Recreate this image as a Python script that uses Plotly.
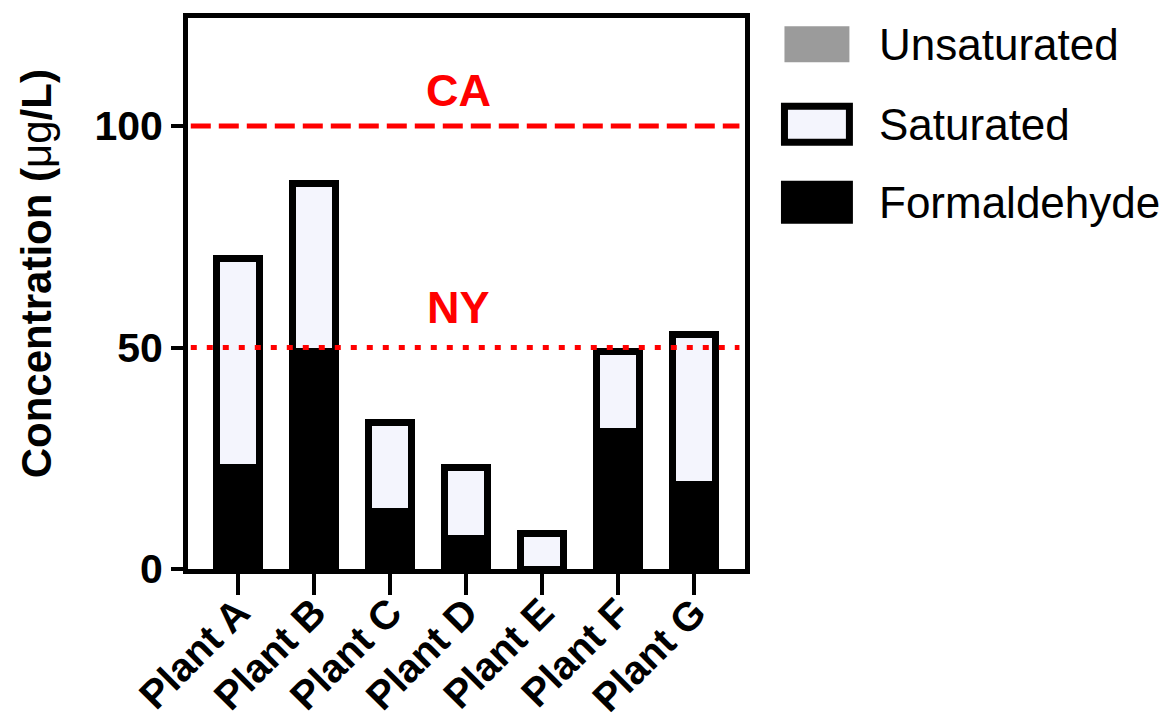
import plotly.graph_objects as go

plants = ["Plant A", "Plant B", "Plant C", "Plant D", "Plant E", "Plant F", "Plant G"]
formaldehyde = [23, 49, 13, 7, 0, 31, 19]
saturated = [47, 38, 20, 16, 8, 18, 34]
unsaturated = [0, 0, 0, 0, 0, 0, 0]
limit_values = [100, 50]
limit_labels = ["CA", "NY"]
y_ticks = [0, 50, 100]
legend_names = ["Unsaturated", "Saturated", "Formaldehyde"]

FONT = "Liberation Sans, Arial, sans-serif"
BLACK = "#000000"
RED = "#FF0000"
SAT_FILL = "#F4F5FD"
UNSAT_FILL = "#9B9B9B"

L, R, T, B = 188, 745.5, 17.7, 569
PW, PH = R - L, B - T

def px(x):
    return (x - L) / PW

def py(y):
    return (B - y) / PH

fig = go.Figure()
fig.add_trace(go.Bar(x=plants, y=formaldehyde, name="Formaldehyde", width=0.56,
                     marker=dict(color=BLACK, line=dict(color=BLACK, width=7))))
fig.add_trace(go.Bar(x=plants, y=saturated, name="Saturated", width=0.56,
                     marker=dict(color=SAT_FILL, line=dict(color=BLACK, width=7))))
fig.add_trace(go.Bar(x=plants, y=unsaturated, name="Unsaturated", width=0.56,
                     marker=dict(color=UNSAT_FILL, line=dict(color=UNSAT_FILL, width=0))))

# reference lines
dash_styles = ["20px,8px", "6px,10px"]
shifts = [8, 13]
for val, lab, dsh, sh in zip(limit_values, limit_labels, dash_styles, shifts):
    fig.add_shape(type="line", xref="paper", yref="y", x0=0.005, x1=0.99, y0=val, y1=val,
                  line=dict(color=RED, width=5, dash=dsh), layer="above")
    fig.add_annotation(x=px(459), xref="paper", y=val, yref="y", text="<b>%s</b>" % lab,
                       showarrow=False, yanchor="bottom", yshift=sh,
                       font=dict(family=FONT, size=45, color=RED))

# custom legend
leg_fill = [UNSAT_FILL, SAT_FILL, BLACK]
leg_line = [UNSAT_FILL, BLACK, BLACK]
leg_lw = [0, 7, 7]
leg_y = [44, 124, 202]  # pixel centers from top
for name, fc, lc, lw, yc in zip(legend_names, leg_fill, leg_line, leg_lw, leg_y):
    fig.add_shape(type="rect", xref="paper", yref="paper",
                  x0=px(785), x1=px(850), y0=py(yc + 18), y1=py(yc - 18),
                  fillcolor=fc, line=dict(color=lc, width=lw))
    fig.add_annotation(xref="paper", yref="paper", x=px(878), y=py(yc), text=name,
                       showarrow=False, xanchor="left", yanchor="middle",
                       font=dict(family=FONT, size=44, color=BLACK))

# y axis title
fig.add_annotation(xref="paper", yref="paper", x=px(36), y=py(274),
                   text="<b>Concentration (</b>μg<b>/L)</b>", textangle=-90, showarrow=False,
                   xanchor="center", yanchor="middle",
                   font=dict(family=FONT, size=42, color=BLACK))

fig.update_layout(
    barmode="stack",
    width=1171, height=723,
    margin=dict(l=L, r=1171 - R, t=T, b=723 - B),
    paper_bgcolor="white", plot_bgcolor="white",
    showlegend=False,
    font=dict(family=FONT, color=BLACK),
)
fig.update_xaxes(
    type="category", range=[-0.66, 6.67], automargin=False,
    showline=True, linecolor=BLACK, linewidth=5, mirror=True,
    ticks="outside", ticklen=21, tickwidth=4, tickcolor=BLACK,
    tickangle=-45, tickfont=dict(family=FONT, size=40, color=BLACK),
    ticklabelstandoff=-22,
    showgrid=False, zeroline=False,
    ticktext=["<b>%s</b>" % p for p in plants], tickvals=plants,
)
fig.update_yaxes(
    range=[0, 124.4], tickvals=y_ticks, ticktext=["<b>%d</b>" % v for v in y_ticks],
    automargin=False,
    showline=True, linecolor=BLACK, linewidth=5, mirror=True,
    ticks="outside", ticklen=12, tickwidth=4, tickcolor=BLACK,
    tickfont=dict(family=FONT, size=41, color=BLACK),
    showgrid=False, zeroline=False,
)
fig.write_html("out.html")
